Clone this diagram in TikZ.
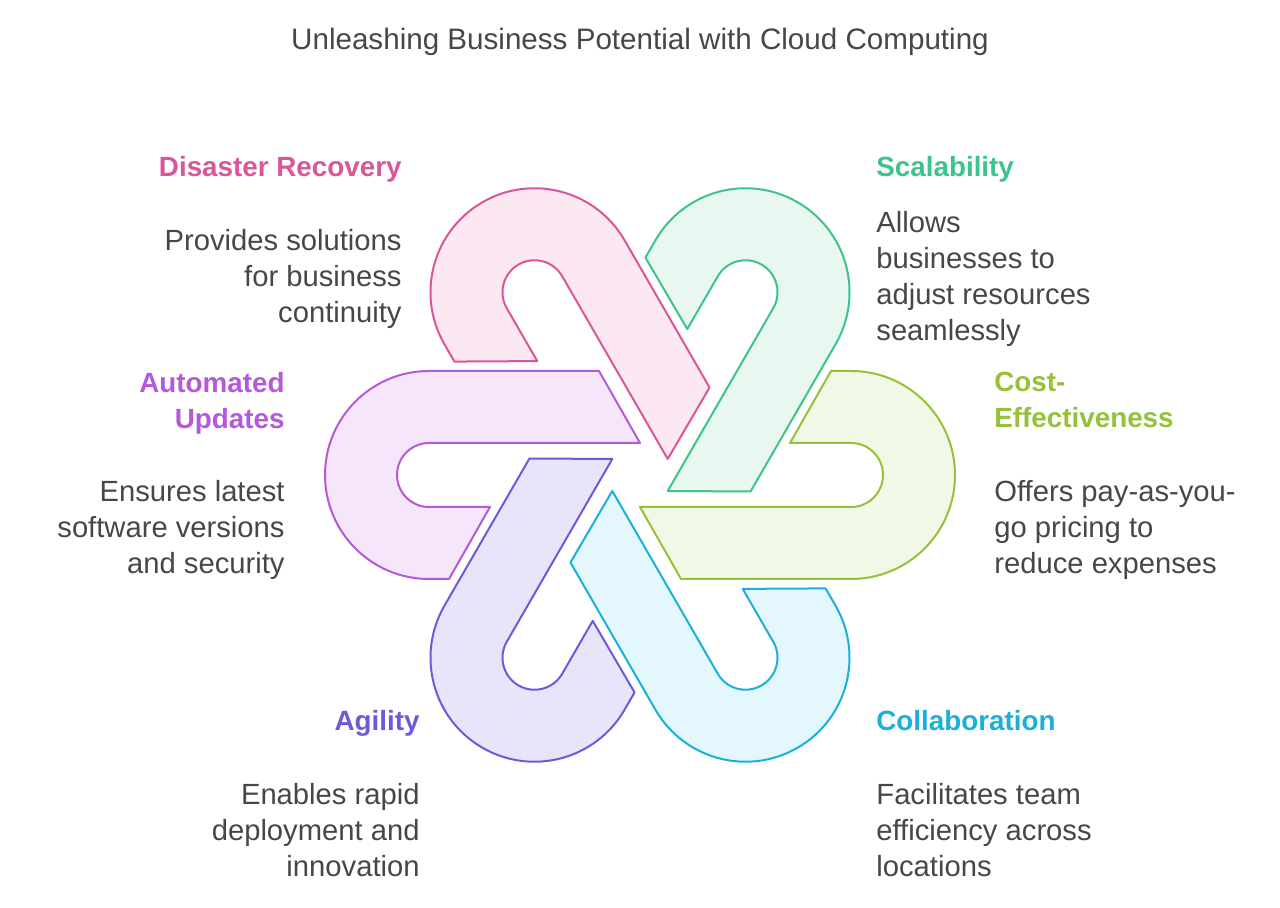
\documentclass[tikz,border=0pt]{standalone}
\usepackage{fontspec}
\setmainfont{Liberation Sans}
\usetikzlibrary{positioning}
\definecolor{drC}{HTML}{DB559B}\definecolor{drF}{HTML}{FCE8F3}
\definecolor{scC}{HTML}{3CC48A}\definecolor{scF}{HTML}{E8F8F0}
\definecolor{ceC}{HTML}{96C13A}\definecolor{ceF}{HTML}{F1F8E6}
\definecolor{coC}{HTML}{1BB0DA}\definecolor{coF}{HTML}{E3F7FC}
\definecolor{agC}{HTML}{6E5AD9}\definecolor{agF}{HTML}{E8E5FB}
\definecolor{auC}{HTML}{B559D9}\definecolor{auF}{HTML}{F6E6FB}
\definecolor{txt}{HTML}{474747}
\tikzset{
  hook/.style={line width=1pt, line join=round},
  head/.style={font=\fontsize{13.9}{18}\selectfont\bfseries, inner sep=0pt},
  desc/.style={font=\fontsize{14.6}{18}\selectfont, text=txt, inner sep=0pt},
}
\begin{document}
\begin{tikzpicture}[x=0.5pt, y=0.5pt]
  \useasboundingbox[fill=white] (0,0) rectangle (1280,908);
  \node[desc, font=\fontsize{14.8}{18}\selectfont] (title) at (640,866) {Unleashing Business Potential with Cloud Computing};

  % the six hooks
  \foreach \ang/\col in {0/ce, 60/sc, 120/dr, 180/au, 240/ag, 300/co}{
    \begin{scope}[shift={(640,433)}, rotate=\ang]
      \draw[hook, draw=\col C, fill=\col F] (0,-32) -- (211,-32)
        arc[start angle=-90, end angle=90, radius=32] -- (150,32) -- (191,104) -- (211,104)
        arc[start angle=90, end angle=-90, radius=104] -- (41,-104) -- cycle;
    \end{scope}
  }

  % labels
  \node[head, text=drC, anchor=north east] (drh) at (402,752) {Disaster Recovery};
  \node[desc, align=right, anchor=north east] (drd) at (402,679) {Provides solutions\\for business\\continuity};
  \node[head, text=scC, anchor=north west] (sch) at (876,752) {Scalability};
  \node[desc, align=left, anchor=north west] (scd) at (876,697) {Allows\\businesses to\\adjust resources\\seamlessly};
  \node[head, text=auC, align=right, anchor=north east] (auh) at (285,536) {Automated\\Updates};
  \node[desc, align=right, anchor=north east] (aud) at (285,428) {Ensures latest\\software versions\\and security};
  \node[head, text=ceC, align=left, anchor=north west] (ceh) at (994,536) {Cost-\\Effectiveness};
  \node[desc, align=left, anchor=north west] (ced) at (994,428) {Offers pay-as-you-\\go pricing to\\reduce expenses};
  \node[head, text=agC, anchor=north east] (agh) at (420,198) {Agility};
  \node[desc, align=right, anchor=north east] (agd) at (420,125) {Enables rapid\\deployment and\\innovation};
  \node[head, text=coC, anchor=north west] (coh) at (876,198) {Collaboration};
  \node[desc, align=left, anchor=north west] (cod) at (876,125) {Facilitates team\\efficiency across\\locations};
\end{tikzpicture}
\end{document}
